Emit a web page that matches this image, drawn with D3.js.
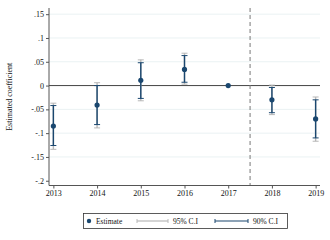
<!DOCTYPE html>
<html>
<head>
<meta charset="utf-8">
<script src="https://cdn.jsdelivr.net/npm/d3@7"></script>
<style>
  body { margin: 0; background: #fff; }
  text { font-family: "Liberation Serif", "DejaVu Serif", serif; fill: #111; }
</style>
</head>
<body>
<svg id="chart" width="330" height="240"></svg>
<script>
// data
var years = [2013, 2014, 2015, 2016, 2017, 2018, 2019];
var estimate = [-0.085, -0.041, 0.011, 0.034, 0, -0.030, -0.070];
var lo95 = [-0.134, -0.089, -0.032, 0.003, 0, -0.061, -0.117];
var hi95 = [-0.037, 0.006, 0.054, 0.068, 0, 0.001, -0.024];
var lo90 = [-0.126, -0.082, -0.027, 0.007, 0, -0.057, -0.110];
var hi90 = [-0.042, 0.000, 0.048, 0.063, 0, -0.004, -0.030];
var yTicks = [0.15, 0.1, 0.05, 0, -0.05, -0.1, -0.15, -0.2];
var cutYear = 2017.5;

var navy = "#1a476f",
    lightgray = "#b8b8b8",
    axisColor = "#555";

var svg = d3.select("#chart"),
    pLeft = 49, pRight = 320, pTop = 8, pBottom = 185.5;

var x = d3.scaleLinear().domain([2012.9, 2019.1]).range([pLeft, pRight]),
    y = d3.scaleLinear().domain([-0.21, 0.163]).range([pBottom, pTop]);

var fmt = function(v) {
  if (v === 0) return "0";
  var s = String(+v.toFixed(2));
  return s.replace("0.", ".");
};

// gridlines
svg.append("g").selectAll("line")
  .data(yTicks.filter(function(v) { return v !== 0 && v !== -0.2; }))
  .enter().append("line")
  .attr("x1", pLeft).attr("x2", pRight)
  .attr("y1", function(d) { return y(d); }).attr("y2", function(d) { return y(d); })
  .attr("stroke", "#eaf2f3").attr("stroke-width", 1);

// zero line
svg.append("line")
  .attr("x1", pLeft).attr("x2", pRight)
  .attr("y1", y(0)).attr("y2", y(0))
  .attr("stroke", "#444").attr("stroke-width", 1);

// vertical dashed line
svg.append("line")
  .attr("x1", x(cutYear)).attr("x2", x(cutYear))
  .attr("y1", pTop).attr("y2", pBottom)
  .attr("stroke", "#777").attr("stroke-width", 1)
  .attr("stroke-dasharray", "4,3");

// axes
var yAxis = d3.axisLeft(y).tickValues(yTicks).tickFormat(fmt).tickSize(3).tickPadding(2);
var gy = svg.append("g").attr("transform", "translate(" + pLeft + ",0)").call(yAxis);
gy.select(".domain").attr("d", "M0," + pTop + "V" + pBottom).attr("stroke", axisColor);
gy.selectAll(".tick line").attr("stroke", axisColor);
gy.selectAll("text").style("font-size", "8px").attr("fill", "#111");

var xAxis = d3.axisBottom(x).tickValues(years).tickFormat(d3.format("d")).tickSize(3).tickPadding(2);
var gx = svg.append("g").attr("transform", "translate(0," + pBottom + ")").call(xAxis);
gx.select(".domain").attr("d", "M" + pLeft + ",0H" + pRight).attr("stroke", axisColor);
gx.selectAll(".tick line").attr("stroke", axisColor);
gx.selectAll("text").style("font-size", "8px").attr("fill", "#111");

svg.append("text")
  .attr("transform", "translate(12," + ((pTop + pBottom) / 2) + ") rotate(-90)")
  .attr("text-anchor", "middle")
  .style("font-size", "8px")
  .text("Estimated coefficient");

// confidence intervals
var pts = years.map(function(yr, i) {
  return { year: yr, est: estimate[i], lo95: lo95[i], hi95: hi95[i], lo90: lo90[i], hi90: hi90[i] };
});

function drawCaps(g, lo, hi, color, w) {
  var sel = g.selectAll(null).data(pts.filter(function(d) { return d[hi] !== d[lo]; })).enter().append("g");
  sel.append("line")
    .attr("x1", function(d) { return x(d.year); }).attr("x2", function(d) { return x(d.year); })
    .attr("y1", function(d) { return y(d[lo]); }).attr("y2", function(d) { return y(d[hi]); })
    .attr("stroke", color).attr("stroke-width", w);
  [lo, hi].forEach(function(k) {
    sel.append("line")
      .attr("x1", function(d) { return x(d.year) - 3; }).attr("x2", function(d) { return x(d.year) + 3; })
      .attr("y1", function(d) { return y(d[k]); }).attr("y2", function(d) { return y(d[k]); })
      .attr("stroke", color).attr("stroke-width", 1);
  });
}
var ci = svg.append("g");
drawCaps(ci, "lo95", "hi95", lightgray, 1.4);
drawCaps(ci, "lo90", "hi90", navy, 1.4);

svg.append("g").selectAll("circle")
  .data(pts).enter().append("circle")
  .attr("cx", function(d) { return x(d.year); })
  .attr("cy", function(d) { return y(d.est); })
  .attr("r", 2.6)
  .attr("fill", navy);

// legend
var lg = svg.append("g");
lg.append("rect").attr("x", 83.5).attr("y", 213.5).attr("width", 204).attr("height", 15)
  .attr("fill", "#fff").attr("stroke", "#333").attr("stroke-width", 0.8);
var ly = 221;
lg.append("circle").attr("cx", 89).attr("cy", ly).attr("r", 2.2).attr("fill", navy);
lg.append("text").attr("x", 96).attr("y", ly + 3).style("font-size", "7.5px").text("Estimate");
[[137, 168, lightgray, "95% C.I"], [215, 248, navy, "90% C.I"]].forEach(function(it) {
  lg.append("line").attr("x1", it[0]).attr("x2", it[1]).attr("y1", ly).attr("y2", ly)
    .attr("stroke", it[2]).attr("stroke-width", 1.2);
  [it[0], it[1]].forEach(function(cx) {
    lg.append("line").attr("x1", cx).attr("x2", cx).attr("y1", ly - 2).attr("y2", ly + 2)
      .attr("stroke", it[2]).attr("stroke-width", 1);
  });
  lg.append("text").attr("x", it[1] + 5).attr("y", ly + 3).style("font-size", "7.5px").text(it[3]);
});
</script>
</body>
</html>
